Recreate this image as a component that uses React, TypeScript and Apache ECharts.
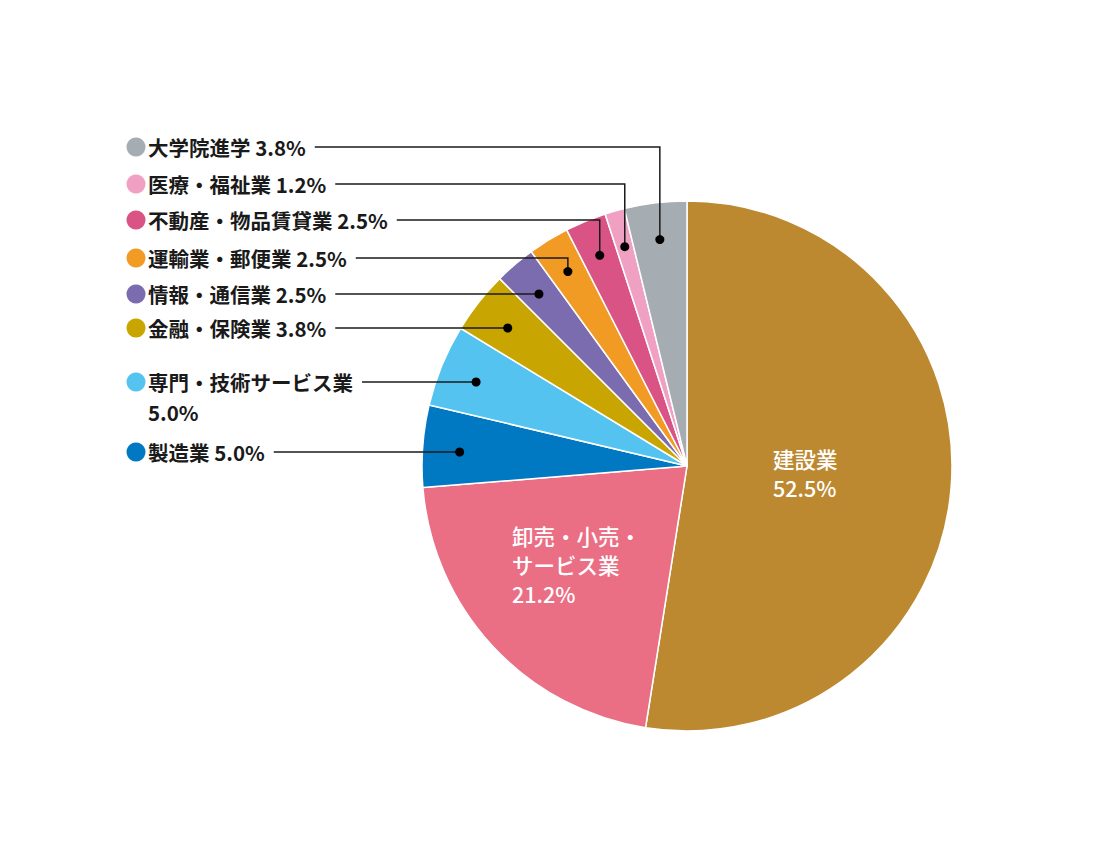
import React, { useEffect, useRef } from 'react';
import * as echarts from 'echarts';

const categories = [
  '建設業',
  '卸売・小売・サービス業',
  '製造業',
  '専門・技術サービス業',
  '金融・保険業',
  '情報・通信業',
  '運輸業・郵便業',
  '不動産・物品賃貸業',
  '医療・福祉業',
  '大学院進学',
];
const values = [52.5, 21.2, 5.0, 5.0, 3.8, 2.5, 2.5, 2.5, 1.2, 3.8];
const colors = [
  '#BC8931',
  '#EA6E84',
  '#0079C2',
  '#55C3F0',
  '#C8A500',
  '#7B6CAF',
  '#F19A24',
  '#D95485',
  '#F0A1C3',
  '#A6ADB2',
];

// label presentation
const insideNames: Record<number, string> = { 1: '卸売・小売・\nサービス業' };
const percentOnNewLine: Record<number, boolean> = { 3: true };

// layout (pixels)
const FONT_FAMILY = '"Noto Sans CJK JP", "Noto Sans", sans-serif';
const CX = 687;
const CY = 466;
const R = 265;
const DOT_R = 228;
const rowY: Record<number, number> = { 9: 147, 8: 184, 7: 220, 6: 258, 5: 294, 4: 328, 3: 382, 2: 452 };
const MARK_X = 136;
const TEXT_X = 148;
const FONT_SIZE = 20.5;
const FONT_WEIGHT = 'bold';
const LINE_H = 30;
const insidePos: Record<number, [number, number]> = { 0: [773, 473], 1: [512, 564] };

function measure(text: string, font: string): number {
  const ctx = document.createElement('canvas').getContext('2d');
  if (!ctx) return text.length * FONT_SIZE;
  ctx.font = font;
  return ctx.measureText(text).width;
}

function sideText(text: string, y: number) {
  return {
    type: 'text',
    silent: true,
    x: TEXT_X,
    y,
    style: {
      text,
      fontFamily: FONT_FAMILY,
      fontSize: FONT_SIZE,
      fontWeight: FONT_WEIGHT,
      fill: '#1a1a1a',
      verticalAlign: 'middle',
      align: 'left',
    },
  };
}

export default function App() {
  const ref = useRef<HTMLDivElement>(null);
  useEffect(() => {
    if (!ref.current) return;
    const chart = echarts.init(ref.current, undefined, { renderer: 'svg' });
    const total = values.reduce((a, b) => a + b, 0);
    const fmt = (v: number) => `${v.toFixed(1)}%`;

    const graphics: any[] = [];
    let cum = 0;
    values.forEach((v, i) => {
      const mid = (cum + v / 2) / total;
      cum += v;
      const y = rowY[i];
      if (y === undefined) return;
      const th = mid * Math.PI * 2;
      const dx = CX + DOT_R * Math.sin(th);
      let dy = CY - DOT_R * Math.cos(th);
      const firstLine = percentOnNewLine[i] ? categories[i] : `${categories[i]} ${fmt(v)}`;
      const w = measure(firstLine, `${FONT_WEIGHT} ${FONT_SIZE}px ${FONT_FAMILY}`);
      const lineStart = TEXT_X + w + 9;
      let pts: number[][];
      if (dy > y + 5) {
        pts = [[lineStart, y], [dx, y], [dx, dy]];
      } else {
        dy = y;
        pts = [[lineStart, y], [dx, y]];
      }
      graphics.push({
        type: 'circle',
        silent: true,
        shape: { cx: MARK_X, cy: y, r: 9.5 },
        style: { fill: colors[i] },
      });
      graphics.push(sideText(firstLine, y));
      if (percentOnNewLine[i]) graphics.push(sideText(fmt(v), y + LINE_H));
      graphics.push({
        type: 'polyline',
        silent: true,
        z: 10,
        shape: { points: pts },
        style: { stroke: '#1a1a1a', lineWidth: 1.5, fill: 'none' },
      });
      graphics.push({
        type: 'circle',
        silent: true,
        z: 10,
        shape: { cx: dx, cy: dy, r: 4.5 },
        style: { fill: '#000' },
      });
    });

    chart.setOption({
      animation: false,
      graphic: { elements: graphics },
      series: [
        {
          type: 'pie',
          center: [CX, CY],
          radius: [0, R],
          startAngle: 90,
          clockwise: true,
          silent: true,
          emphasis: { disabled: true },
          itemStyle: { borderColor: '#ffffff', borderWidth: 1.5 },
          labelLine: { show: false },
          data: categories.map((name, i) => ({
            name,
            value: values[i],
            itemStyle: { color: colors[i] },
            label: {
              show: insidePos[i] !== undefined,
              position: 'inside',
              formatter: () => `${insideNames[i] ?? name}\n${fmt(values[i])}`,
              color: '#ffffff',
              fontFamily: FONT_FAMILY,
              fontSize: 21.5,
              fontWeight: 500,
              lineHeight: 29,
              align: 'left',
            },
          })),
          labelLayout: (params: any) => {
            const p = insidePos[params.dataIndex];
            if (!p) return {};
            return { x: p[0], y: p[1], align: 'left', verticalAlign: 'middle' };
          },
        },
      ],
    });
    return () => chart.dispose();
  }, []);
  return (
    <div
      ref={ref}
      style={{ position: 'fixed', left: 0, top: 0, width: 1100, height: 850, background: '#fff' }}
    />
  );
}
